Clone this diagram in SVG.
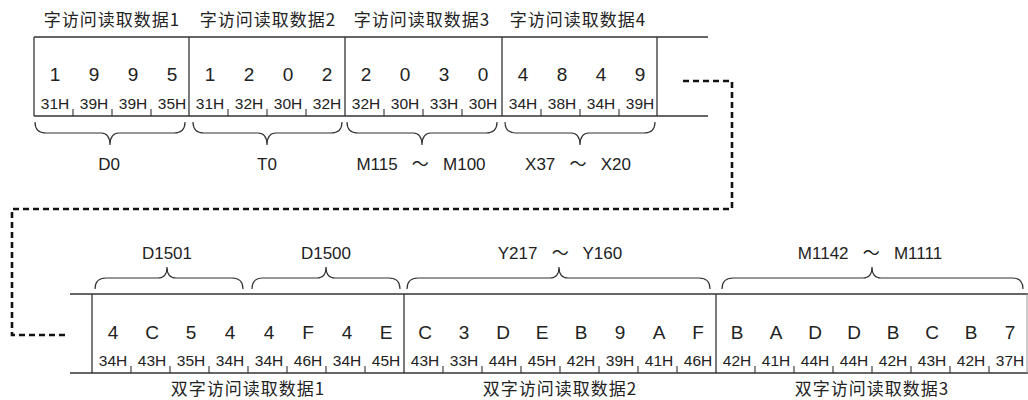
<svg xmlns="http://www.w3.org/2000/svg" width="1028" height="400" viewBox="0 0 1028 400">
<style>
.ln{stroke:#333;stroke-width:1.3;fill:none}
.tk{stroke:#333;stroke-width:1.1;fill:none}
.br{stroke:#333;stroke-width:1.2;fill:none}
.dg{font-family:"Liberation Sans",Arial,sans-serif;font-size:19px;fill:#222;text-anchor:middle}
.hx{font-family:"Liberation Sans",Arial,sans-serif;font-size:15.5px;fill:#222;text-anchor:middle}
.lb{font-family:"Liberation Sans","Noto Sans CJK SC",sans-serif;font-size:17px;fill:#222;text-anchor:middle}
.cj{font-family:"Noto Sans CJK SC",sans-serif;font-size:17px;letter-spacing:1px;fill:#222;text-anchor:middle}
.dash{stroke:#111;stroke-width:2.6;fill:none;stroke-dasharray:6 4}
</style>
<rect width="1028" height="400" fill="#fff"/>

<!-- top row frame -->
<g id="top-frame">
<line class="ln" x1="34" y1="37" x2="708" y2="37"/>
<line class="ln" x1="34" y1="116" x2="708" y2="116"/>
</g>

<g id="word1">
<text class="cj" x="112" y="26">字访问读取数据1</text>
<line class="ln" x1="34" y1="37" x2="34" y2="116"/>
<text class="dg" x="55" y="81">1</text><text class="dg" x="94" y="81">9</text><text class="dg" x="133" y="81">9</text><text class="dg" x="172" y="81">5</text>
<text class="hx" x="55" y="109">31H</text><text class="hx" x="94" y="109">39H</text><text class="hx" x="133" y="109">39H</text><text class="hx" x="172" y="109">35H</text>
<path class="tk" d="M73 116V109M112 116V109M151 116V109"/>
<path class="br" d="M35 122Q35 133 46 133H101Q110 133 110 145Q110 133 119 133H174Q185 133 185 122"/>
<text class="lb" x="109" y="170">D0</text>
</g>

<g id="word2">
<text class="cj" x="268" y="26">字访问读取数据2</text>
<line class="ln" x1="189" y1="37" x2="189" y2="116"/>
<text class="dg" x="210" y="81">1</text><text class="dg" x="249" y="81">2</text><text class="dg" x="288" y="81">0</text><text class="dg" x="327" y="81">2</text>
<text class="hx" x="210" y="109">31H</text><text class="hx" x="249" y="109">32H</text><text class="hx" x="288" y="109">30H</text><text class="hx" x="327" y="109">32H</text>
<path class="tk" d="M228 116V109M267 116V109M306 116V109"/>
<path class="br" d="M193 122Q193 133 204 133H258Q267 133 267 145Q267 133 276 133H331Q342 133 342 122"/>
<text class="lb" x="267" y="170">T0</text>
</g>

<g id="word3">
<text class="cj" x="422" y="26">字访问读取数据3</text>
<line class="ln" x1="345" y1="37" x2="345" y2="116"/>
<text class="dg" x="366" y="81">2</text><text class="dg" x="405" y="81">0</text><text class="dg" x="444" y="81">3</text><text class="dg" x="483" y="81">0</text>
<text class="hx" x="366" y="109">32H</text><text class="hx" x="405" y="109">30H</text><text class="hx" x="444" y="109">33H</text><text class="hx" x="483" y="109">30H</text>
<path class="tk" d="M384 116V109M423 116V109M462 116V109"/>
<path class="br" d="M347 122Q347 133 358 133H413Q422 133 422 145Q422 133 431 133H486Q497 133 497 122"/>
<text class="lb" x="421" y="170" xml:space="preserve">M115   ～   M100</text>
</g>

<g id="word4">
<text class="cj" x="578" y="26">字访问读取数据4</text>
<line class="ln" x1="502" y1="37" x2="502" y2="116"/>
<line class="ln" x1="657" y1="37" x2="657" y2="116"/>
<text class="dg" x="523" y="81">4</text><text class="dg" x="562" y="81">8</text><text class="dg" x="601" y="81">4</text><text class="dg" x="640" y="81">9</text>
<text class="hx" x="523" y="109">34H</text><text class="hx" x="562" y="109">38H</text><text class="hx" x="601" y="109">34H</text><text class="hx" x="640" y="109">39H</text>
<path class="tk" d="M541 116V109M580 116V109M619 116V109"/>
<path class="br" d="M505 122Q505 133 516 133H571Q580 133 580 145Q580 133 589 133H644Q655 133 655 122"/>
<text class="lb" x="578" y="170" xml:space="preserve">X37   ～   X20</text>
</g>

<!-- bottom row frame -->
<g id="bottom-frame">
<line class="ln" x1="70" y1="294" x2="1028" y2="294"/>
<line class="ln" x1="70" y1="373" x2="1028" y2="373"/>
</g>

<g id="dword1">
<line class="ln" x1="92" y1="294" x2="92" y2="373"/>
<path class="br" d="M95 289Q95 278 106 278H158Q167 278 167 267Q167 278 176 278H232Q243 278 243 289"/>
<path class="br" d="M252 289Q252 278 263 278H317Q326 278 326 267Q326 278 335 278H389Q400 278 400 289"/>
<text class="lb" x="167" y="259">D1501</text>
<text class="lb" x="326" y="259">D1500</text>
<text class="dg" x="113" y="339">4</text><text class="dg" x="152" y="339">C</text><text class="dg" x="191" y="339">5</text><text class="dg" x="230" y="339">4</text><text class="dg" x="269" y="339">4</text><text class="dg" x="308" y="339">F</text><text class="dg" x="347" y="339">4</text><text class="dg" x="386" y="339">E</text>
<text class="hx" x="113" y="366">34H</text><text class="hx" x="152" y="366">43H</text><text class="hx" x="191" y="366">35H</text><text class="hx" x="230" y="366">34H</text><text class="hx" x="269" y="366">34H</text><text class="hx" x="308" y="366">46H</text><text class="hx" x="347" y="366">34H</text><text class="hx" x="386" y="366">45H</text>
<path class="tk" d="M131 373V366M170 373V366M209 373V366M248 373V366M287 373V366M326 373V366M365 373V366"/>
<text class="cj" x="248" y="395">双字访问读取数据1</text>
</g>

<g id="dword2">
<line class="ln" x1="404" y1="294" x2="404" y2="373"/>
<path class="br" d="M407 289Q407 278 418 278H550Q559 278 559 267Q559 278 568 278H699Q710 278 710 289"/>
<text class="lb" x="560" y="259" xml:space="preserve">Y217   ～   Y160</text>
<text class="dg" x="425" y="339">C</text><text class="dg" x="464" y="339">3</text><text class="dg" x="503" y="339">D</text><text class="dg" x="542" y="339">E</text><text class="dg" x="581" y="339">B</text><text class="dg" x="620" y="339">9</text><text class="dg" x="659" y="339">A</text><text class="dg" x="698" y="339">F</text>
<text class="hx" x="425" y="366">43H</text><text class="hx" x="464" y="366">33H</text><text class="hx" x="503" y="366">44H</text><text class="hx" x="542" y="366">45H</text><text class="hx" x="581" y="366">42H</text><text class="hx" x="620" y="366">39H</text><text class="hx" x="659" y="366">41H</text><text class="hx" x="698" y="366">46H</text>
<path class="tk" d="M443 373V366M482 373V366M521 373V366M560 373V366M599 373V366M638 373V366M677 373V366"/>
<text class="cj" x="560" y="395">双字访问读取数据2</text>
</g>

<g id="dword3">
<line class="ln" x1="716" y1="294" x2="716" y2="373"/>
<line x1="1027" y1="294" x2="1027" y2="373" stroke="#999" stroke-width="1"/>
<path class="br" d="M722 289Q722 278 733 278H863Q872 278 872 267Q872 278 881 278H1012Q1023 278 1023 289"/>
<text class="lb" x="870" y="259" xml:space="preserve">M1142   ～   M1111</text>
<text class="dg" x="737" y="339">B</text><text class="dg" x="776" y="339">A</text><text class="dg" x="815" y="339">D</text><text class="dg" x="854" y="339">D</text><text class="dg" x="893" y="339">B</text><text class="dg" x="932" y="339">C</text><text class="dg" x="971" y="339">B</text><text class="dg" x="1010" y="339">7</text>
<text class="hx" x="737" y="366">42H</text><text class="hx" x="776" y="366">41H</text><text class="hx" x="815" y="366">44H</text><text class="hx" x="854" y="366">44H</text><text class="hx" x="893" y="366">42H</text><text class="hx" x="932" y="366">43H</text><text class="hx" x="971" y="366">42H</text><text class="hx" x="1010" y="366">37H</text>
<path class="tk" d="M755 373V366M794 373V366M833 373V366M872 373V366M911 373V366M950 373V366M989 373V366"/>
<text class="cj" x="872" y="395">双字访问读取数据3</text>
</g>

<g id="connectors">
<path class="dash" d="M683 81H732V209H12V335H67"/>
</g>
</svg>
